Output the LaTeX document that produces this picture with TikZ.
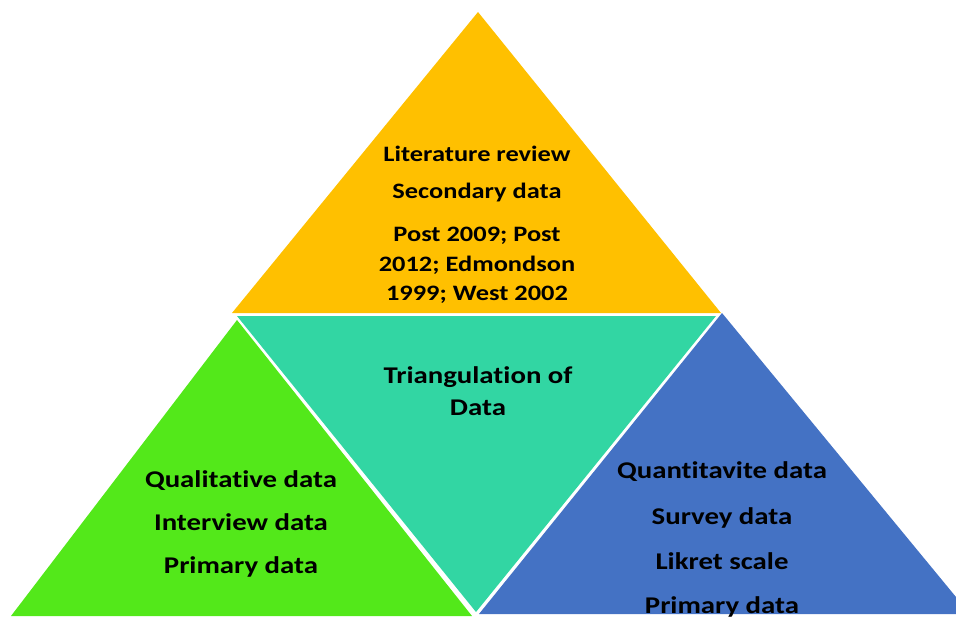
\documentclass[tikz,border=0pt]{standalone}
\usepackage{fontspec}
\setmainfont[Ligatures=NoCommon, FakeStretch=1.2]{Carlito}
\definecolor{topyellow}{HTML}{FFC000}
\definecolor{midteal}{HTML}{32D6A3}
\definecolor{leftgreen}{HTML}{53E81A}
\definecolor{rightblue}{HTML}{4472C4}
\tikzset{
  lbl/.style={anchor=base, inner sep=0pt, font=\fontsize{24}{28}\selectfont\bfseries, text=black},
  toplbl/.style={lbl, font=\fontsize{22}{26}\selectfont\bfseries}
}
\begin{document}
\begin{tikzpicture}[x=1pt, y=-1pt]
  \useasboundingbox (0,0) rectangle (956,618);
  \begin{scope}
    \clip (0,0) rectangle (956,618);
    % four triangles of the pyramid
    \fill[topyellow] (478,12) -- (232,313) -- (721,313) -- cycle;
    \fill[midteal] (237,316) -- (716,316) -- (476,612) -- cycle;
    \fill[leftgreen] (237,320) -- (11,616) -- (472,616) -- cycle;
    \fill[rightblue] (722,313) -- (479,614) -- (970,614) -- cycle;
  \end{scope}
  % top: literature
  \node[toplbl] (lit) at (477,161) {Literature review};
  \node[toplbl] (sec) at (477,198) {Secondary data};
  \node[toplbl] (p1) at (477,241) {Post 2009; Post};
  \node[toplbl] (p2) at (477,271) {2012; Edmondson};
  \node[toplbl] (p3) at (477,300) {1999; West 2002};
  % centre
  \node[lbl] (tri1) at (478,383) {Triangulation of};
  \node[lbl] (tri2) at (478,415) {Data};
  % left: qualitative
  \node[lbl] (qual) at (241,487) {Qualitative data};
  \node[lbl] (inter) at (241,530) {Interview data};
  \node[lbl] (primL) at (241,573) {Primary data};
  % right: quantitative
  \node[lbl] (quant) at (722,478) {Quantitavite data};
  \node[lbl] (surv) at (722,524) {Survey data};
  \node[lbl] (lik) at (722,569) {Likret scale};
  \node[lbl] (primR) at (722,613) {Primary data};
\end{tikzpicture}
\end{document}
